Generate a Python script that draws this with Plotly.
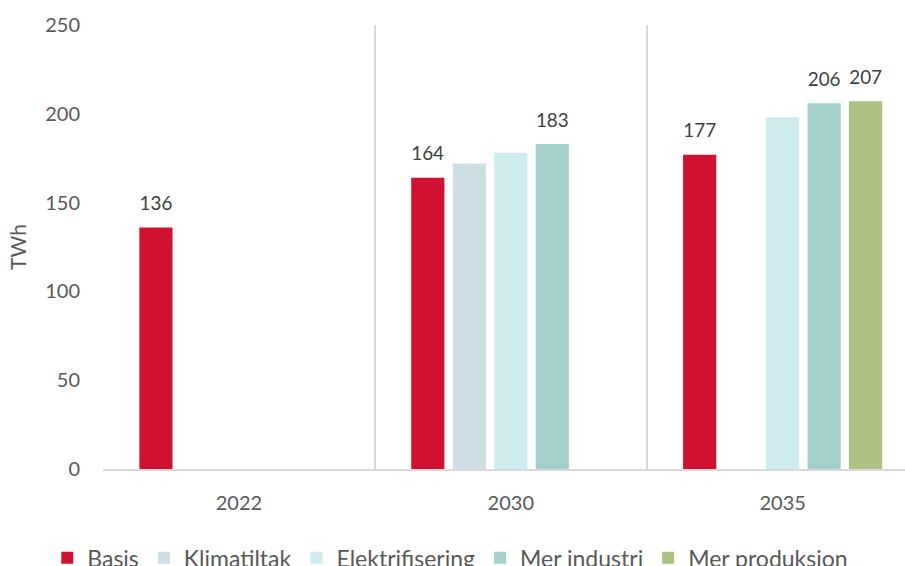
import plotly.graph_objects as go

# Electricity demand scenarios (TWh)
years = ["2022", "2030", "2035"]
series_names = ["Basis", "Klimatiltak", "Elektrifisering", "Mer industri", "Mer produksjon"]
basis = [136, 164, 177]
klimatiltak = [None, 172, None]
elektrifisering = [None, 178, 198]
mer_industri = [None, 183, 206]
mer_produksjon = [None, None, 207]
y_ticks = [0, 50, 100, 150, 200, 250]

# which series carry a value label above the bar
labelled = {"Basis": True, "Klimatiltak": False, "Elektrifisering": False,
            "Mer industri": True, "Mer produksjon": True}

colors = {
    "Basis": "#D01232",
    "Klimatiltak": "#CDDFE3",
    "Elektrifisering": "#CEEBEE",
    "Mer industri": "#A5D0CC",
    "Mer produksjon": "#ABC283",
}

values = dict(zip(series_names, [basis, klimatiltak, elektrifisering, mer_industri, mer_produksjon]))

FONT = "Lato, 'Source Sans Pro', 'Noto Sans', sans-serif"
LABEL_GAP = 6  # clearance (in TWh) between a bar top and its value label

fig = go.Figure()
for name in series_names:
    vals = values[name]
    fig.add_trace(go.Bar(
        name=name,
        x=years,
        y=vals,
        offsetgroup=name,
        marker=dict(color=colors[name], line=dict(width=0)),
        hoverinfo="x+y+name",
    ))

# invisible spacer bars sitting on top of each bar carry the value labels
for name in series_names:
    if not labelled[name]:
        continue
    vals = values[name]
    fig.add_trace(go.Bar(
        name=name,
        x=years,
        y=[LABEL_GAP if v is not None else None for v in vals],
        base=[v if v is not None else None for v in vals],
        offsetgroup=name,
        marker=dict(color="rgba(0,0,0,0)", line=dict(width=0)),
        text=[str(v) if v is not None else "" for v in vals],
        textposition="outside",
        textfont=dict(size=20, color="#404040", family=FONT),
        cliponaxis=False,
        showlegend=False,
        hoverinfo="skip",
    ))

fig.update_layout(
    width=905,
    height=566,
    margin=dict(l=103, r=0, t=25, b=97, autoexpand=False),
    barmode="group",
    bargap=0.237,
    bargroupgap=0.2,
    plot_bgcolor="white",
    paper_bgcolor="white",
    font=dict(family=FONT, size=20, color="#595959"),
    showlegend=True,
    legend=dict(
        orientation="h",
        xref="paper",
        x=0.433,
        xanchor="center",
        yref="paper",
        y=-0.2,
        yanchor="middle",
        font=dict(size=23, color="#595959"),
        itemclick=False,
        traceorder="normal",
    ),
    uniformtext=dict(minsize=10, mode="show"),
)

fig.update_xaxes(
    type="category",
    range=[-0.5, 2.45],
    tickson="boundaries",
    showgrid=True,
    gridcolor="#D9D9D9",
    gridwidth=1.5,
    showline=True,
    linecolor="#D9D9D9",
    linewidth=1.5,
    ticks="",
    ticklabelstandoff=15,
    tickfont=dict(size=20, color="#595959"),
)

fig.update_yaxes(
    range=[0, 250],
    tickvals=y_ticks,
    showgrid=False,
    zeroline=False,
    showline=False,
    ticks="",
    ticklabelstandoff=22,
    tickfont=dict(size=20, color="#595959"),
    title=dict(text="TWh", font=dict(size=21, color="#595959"), standoff=12),
)

fig.write_html("out.html")
